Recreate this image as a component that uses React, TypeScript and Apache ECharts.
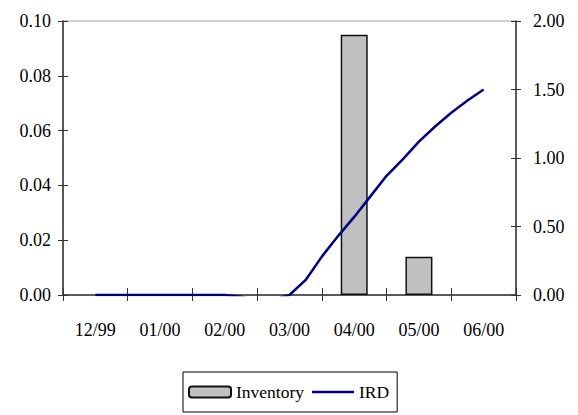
import React, { useEffect, useRef } from "react";
import * as echarts from "echarts";

const categories = ["12/99", "01/00", "02/00", "03/00", "04/00", "05/00", "06/00"];
const inventoryValues: (number | null)[] = [null, null, null, null, 0.095, 0.014, null];
// IRD positions expressed in category units (0 = 12/99, 6 = 06/00)
const irdPositions = [0, 1, 2, 2.25, 2.5, 2.75, 3, 3.25, 3.5, 3.75, 4, 4.25, 4.5, 4.75, 5, 5.25, 5.5, 5.75, 6];
const irdValues = [0, 0, 0, -0.012, -0.04, -0.035, 0, 0.11, 0.28, 0.43, 0.57, 0.72, 0.87, 0.99, 1.12, 1.23, 1.33, 1.42, 1.5];
const leftTicks = { min: 0, max: 0.1, interval: 0.02 };
const rightTicks = { min: 0, max: 2, interval: 0.5 };

const FONT = "Liberation Serif";
const AXIS_COLOR = "#333";

export default function App() {
  const ref = useRef<HTMLDivElement>(null);
  useEffect(() => {
    if (!ref.current) return;
    const chart = echarts.init(ref.current, undefined, { renderer: "svg" });
    const labelStyle = { color: "#000", fontFamily: FONT, fontSize: 18 };
    const hiddenYInside = (pos: "left" | "right", t: any) => ({
      type: "value",
      position: pos,
      min: t.min,
      max: t.max,
      interval: t.interval,
      axisLine: { show: false, onZero: false },
      axisLabel: { show: false },
      splitLine: { show: false },
      axisTick: { show: true, inside: true, length: 5, lineStyle: { color: AXIS_COLOR, width: 1 } },
    });
    chart.setOption({
      animation: false,
      textStyle: { fontFamily: FONT },
      grid: {
        left: 63,
        right: 62,
        top: 21,
        bottom: 120,
        show: true,
        borderColor: "#a0a0a0",
        borderWidth: 1,
        backgroundColor: "transparent",
      },
      legend: {
        left: 183,
        top: 372,
        orient: "horizontal",
        padding: [11, 8, 11, 5],
        itemGap: 8,
        itemWidth: 42,
        itemHeight: 11,
        borderColor: "#000",
        borderWidth: 1,
        textStyle: { color: "#000", fontFamily: FONT, fontSize: 17.5 },
        data: [
          { name: "Inventory" },
          {
            name: "IRD",
            icon: "path://M0,0 L42,0 L42,2.5 L0,2.5 Z",
            itemStyle: { color: "#000080", borderWidth: 0 },
          },
        ],
      },
      xAxis: [
        {
          type: "category",
          data: categories,
          position: "bottom",
          boundaryGap: true,
          axisLine: { show: true, onZero: false, lineStyle: { color: AXIS_COLOR, width: 1.5 } },
          axisTick: { show: true, length: 6, lineStyle: { color: AXIS_COLOR, width: 1 } },
          axisLabel: { ...labelStyle, margin: 26 },
          splitLine: { show: false },
        },
        {
          type: "category",
          data: categories,
          position: "bottom",
          boundaryGap: true,
          axisLine: { show: false, onZero: false },
          axisTick: { show: true, inside: true, length: 7, lineStyle: { color: AXIS_COLOR, width: 1 } },
          axisLabel: { show: false },
          splitLine: { show: false },
        },
        {
          type: "value",
          show: false,
          min: -0.5,
          max: 6.5,
          axisLine: { show: false, onZero: false },
          splitLine: { show: false },
        },
      ],
      yAxis: [
        {
          type: "value",
          position: "left",
          min: leftTicks.min,
          max: leftTicks.max,
          interval: leftTicks.interval,
          axisLine: { show: true, onZero: false, lineStyle: { color: AXIS_COLOR, width: 1.5 } },
          axisTick: { show: true, length: 5, lineStyle: { color: AXIS_COLOR, width: 1 } },
          axisLabel: { ...labelStyle, margin: 12, formatter: (v: number) => v.toFixed(2) },
          splitLine: { show: false },
        },
        {
          type: "value",
          position: "right",
          min: rightTicks.min,
          max: rightTicks.max,
          interval: rightTicks.interval,
          axisLine: { show: true, onZero: false, lineStyle: { color: AXIS_COLOR, width: 1.5 } },
          axisTick: { show: true, length: 5, lineStyle: { color: AXIS_COLOR, width: 1 } },
          axisLabel: { ...labelStyle, margin: 17, formatter: (v: number) => v.toFixed(2) },
          splitLine: { show: false },
        },
        hiddenYInside("left", leftTicks),
        hiddenYInside("right", rightTicks),
      ],
      series: [
        {
          name: "Inventory",
          type: "bar",
          xAxisIndex: 0,
          yAxisIndex: 0,
          data: inventoryValues,
          barWidth: 27,
          itemStyle: { color: "#c0c0c0", borderColor: "#111", borderWidth: 1.5 },
        },
        {
          name: "IRD",
          type: "line",
          xAxisIndex: 2,
          yAxisIndex: 1,
          data: irdPositions.map((p, i) => [p, irdValues[i]]),
          symbol: "none",
          showSymbol: false,
          lineStyle: { color: "#000080", width: 2.5 },
          itemStyle: { color: "#000080" },
        },
      ],
    });
    return () => chart.dispose();
  }, []);
  return (
    <div
      ref={ref}
      style={{ position: "fixed", left: 0, top: 0, width: 578, height: 415, background: "#fff" }}
    />
  );
}
